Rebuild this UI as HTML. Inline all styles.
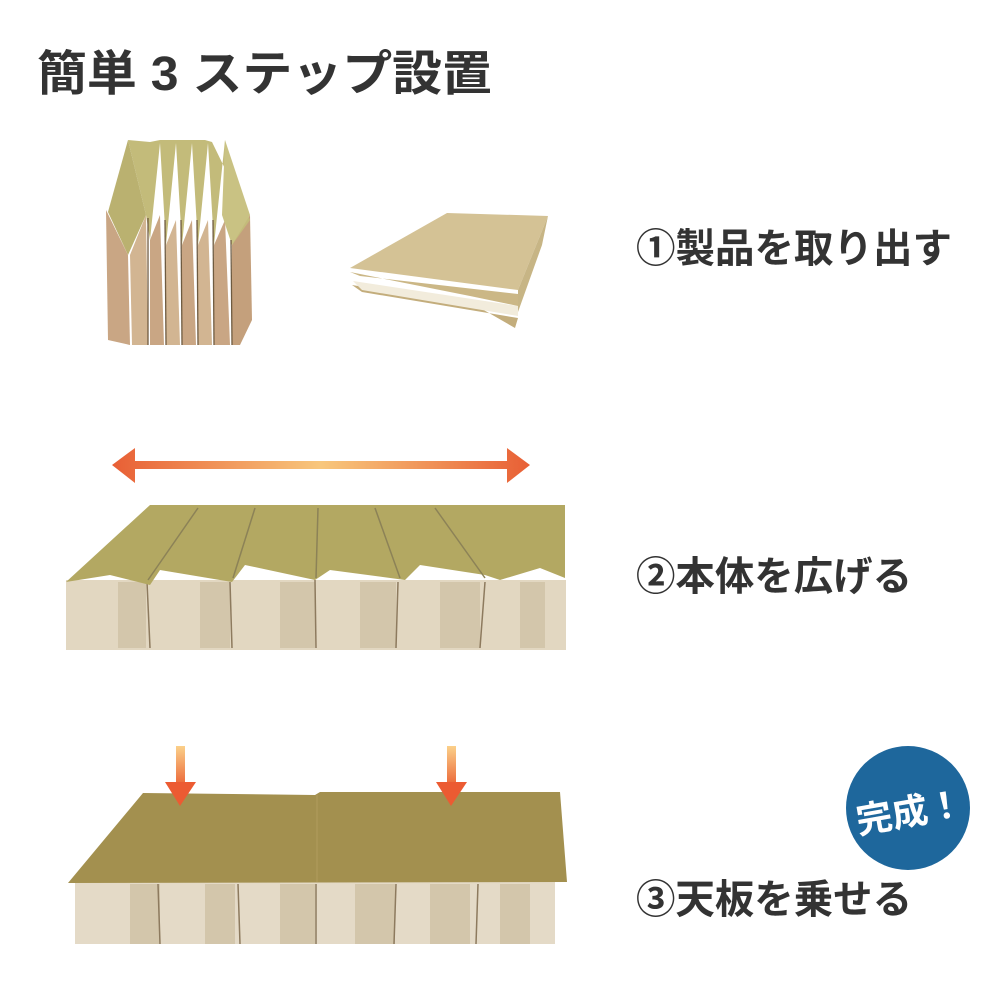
<!DOCTYPE html>
<html><head><meta charset="utf-8"><style>
html,body{margin:0;padding:0;background:#fff;width:1000px;height:1000px;overflow:hidden}
svg{display:block}
text{font-family:"Liberation Sans","Noto Sans CJK JP",sans-serif;font-weight:bold;fill:#333}
</style></head><body>
<svg width="1000" height="1000" viewBox="0 0 1000 1000" xmlns="http://www.w3.org/2000/svg">
<defs>
<linearGradient id="ag" x1="0" x2="1" y1="0" y2="0">
<stop offset="0" stop-color="#e85f35"/><stop offset="0.5" stop-color="#f8c77c"/><stop offset="1" stop-color="#e85f35"/>
</linearGradient>
<linearGradient id="dg" x1="0" x2="0" y1="0" y2="1">
<stop offset="0" stop-color="#fbd08a"/><stop offset="1" stop-color="#ec6a3a"/>
</linearGradient>
</defs>
<text x="37" y="90" font-size="48" textLength="455" lengthAdjust="spacingAndGlyphs">簡単 3 ステップ設置</text>

<!-- folded stack -->
<g>
<!-- brown fronts -->
<polygon points="106,210 128,255 130,345 108,340" fill="#c9a684"/>
<polygon points="130,255 146,215 148,345 132,345" fill="#d2b592"/>
<polygon points="150,240 160,215 164,345 150,345" fill="#c9a684"/>
<polygon points="166,245 176,220 180,345 166,345" fill="#d2b592"/>
<polygon points="182,245 192,220 196,345 182,345" fill="#c9a684"/>
<polygon points="198,245 208,220 212,345 198,345" fill="#d2b592"/>
<polygon points="214,245 225,220 230,345 214,345" fill="#c9a684"/>
<polygon points="232,245 250,215 252,320 240,345 232,345" fill="#c4a07c"/>
<!-- top yellow zigzag -->
<polygon points="108,212 128,140 146,215 150,240 160,143 166,245 176,143 182,245 192,143 198,245 208,143 214,245 225,140 232,245 250,220 212,142 205,140 195,140 178,140 160,140 150,142 128,140 110,205" fill="#c3bb7a"/>
<polygon points="128,140 146,215 128,255 108,212" fill="#bab170"/>
<polygon points="225,140 250,215 232,245 222,215" fill="#c9c283"/>
<g stroke="#6f5b40" stroke-width="1.3">
<line x1="148" y1="218" x2="148" y2="345"/><line x1="165" y1="220" x2="166" y2="345"/>
<line x1="181" y1="220" x2="182" y2="345"/><line x1="197" y1="220" x2="198" y2="345"/>
<line x1="213" y1="220" x2="214" y2="345"/><line x1="231" y1="240" x2="232" y2="345"/>
</g>
</g>

<!-- flat folded -->
<polygon points="352,285 475,305 515,328 518,318 362,292" fill="#c3ad7c"/>
<polygon points="353,281 362,290 518,316 518,306" fill="#f2ecdc"/>
<polygon points="350,272 470,296 518,306 518,294 360,276" fill="#cbb786"/>
<polygon points="350,268 447,213 548,216 518,290" fill="#d4c295"/>
<polygon points="518,290 548,216 542,245 518,312" fill="#c7b585"/>

<text x="636" y="262" font-size="40" textLength="316" lengthAdjust="spacingAndGlyphs">①製品を取り出す</text>

<!-- double arrow -->
<polygon points="112,465 135,448 135,461 507,461 507,448 530,465 507,483 507,469 135,469 135,483" fill="url(#ag)"/>

<!-- spread -->
<g>
<rect x="66" y="580" width="500" height="70" fill="#e2d7c1"/>
<g fill="#d3c6ab"><rect x="118" y="582" width="28" height="66"/><rect x="200" y="582" width="30" height="66"/><rect x="280" y="582" width="35" height="66"/><rect x="360" y="582" width="36" height="66"/><rect x="440" y="582" width="40" height="66"/><rect x="520" y="582" width="25" height="66"/></g>
<g stroke="#8d7a5e" stroke-width="1.5">
<line x1="147" y1="582" x2="150" y2="648"/><line x1="230" y1="582" x2="232" y2="648"/>
<line x1="315" y1="580" x2="316" y2="648"/><line x1="398" y1="582" x2="396" y2="648"/>
<line x1="485" y1="582" x2="480" y2="648"/>
</g>
<polygon points="66,582 150,505 565,505 565,578 540,568 500,580 485,575 420,565 405,580 330,570 315,580 245,565 232,582 160,570 150,585 110,575" fill="#b3a862"/>
<g stroke="#8c8257" stroke-width="1.5" fill="none">
<line x1="198" y1="508" x2="148" y2="580"/><line x1="255" y1="508" x2="233" y2="578"/>
<line x1="318" y1="508" x2="316" y2="578"/><line x1="375" y1="508" x2="400" y2="578"/>
<line x1="435" y1="508" x2="485" y2="578"/>
</g>
</g>

<text x="636" y="590" font-size="40" textLength="276" lengthAdjust="spacingAndGlyphs">②本体を広げる</text>

<!-- step 3 -->
<g>
<rect x="75" y="882" width="480" height="62" fill="#e4dac7"/>
<g fill="#d3c6ab"><rect x="130" y="884" width="30" height="60"/><rect x="205" y="884" width="30" height="60"/><rect x="280" y="884" width="35" height="60"/><rect x="355" y="884" width="40" height="60"/><rect x="430" y="884" width="40" height="60"/><rect x="500" y="884" width="30" height="60"/></g>
<g stroke="#8d7a5e" stroke-width="1.5"><line x1="158" y1="884" x2="160" y2="944"/><line x1="238" y1="884" x2="240" y2="944"/><line x1="316" y1="884" x2="316" y2="944"/><line x1="396" y1="884" x2="394" y2="944"/><line x1="478" y1="884" x2="476" y2="944"/></g>
<polygon points="68,883 143,793 315,795 320,792 560,792 567,882" fill="#a3904f"/>
<line x1="317" y1="795" x2="317" y2="882" stroke="#b09d5d" stroke-width="1"/>
<rect x="176" y="746" width="9" height="38" fill="url(#dg)"/>
<polygon points="165,782 196,782 180,806" fill="#ec5b32"/>
<rect x="447" y="746" width="9" height="38" fill="url(#dg)"/>
<polygon points="436,782 467,782 451,806" fill="#ec5b32"/>
</g>

<circle cx="908" cy="808" r="62" fill="#1e679c"/>
<text x="855" y="825" font-size="36" style="fill:#fff" transform="rotate(-10 908 808)">完成！</text>

<text x="636" y="913" font-size="40" textLength="276" lengthAdjust="spacingAndGlyphs">③天板を乗せる</text>
</svg>
</body></html>
